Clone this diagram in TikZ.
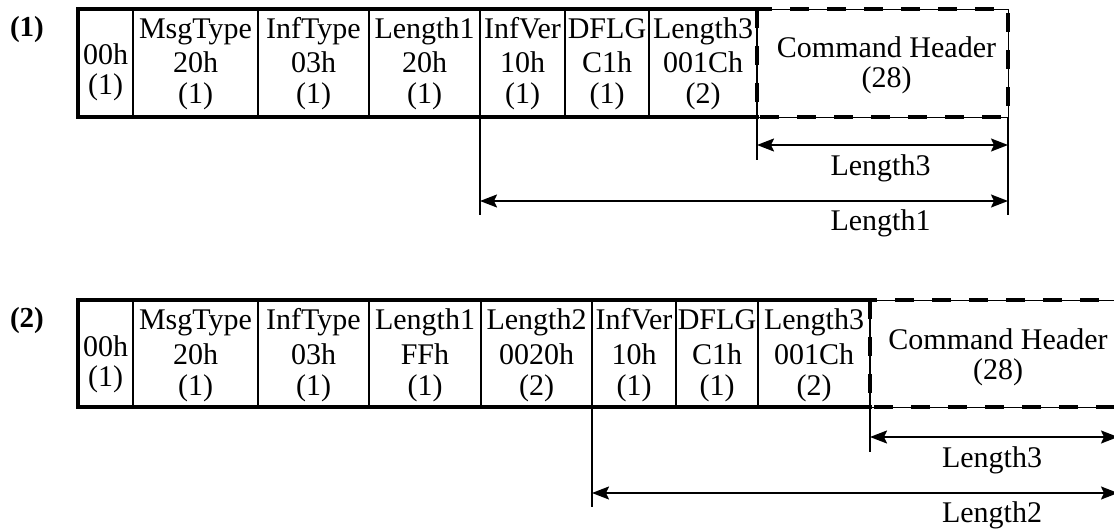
\documentclass[tikz,border=0pt]{standalone}
\usepackage{fontspec}
\setmainfont{Liberation Serif}
\usetikzlibrary{arrows.meta,calc}
\newcommand\cellfont{\fontsize{30}{30}\selectfont}
% three text lines in a cell: #1 name, #2 cell node, #3-#5 lines
\newcommand\cellthree[5]{%
  \node[linetext] (#1-1) at ($(#2.north)+(0,30)$) {#3};
  \node[linetext] (#1-2) at ($(#2.north)+(0,64)$) {#4};
  \node[linetext] (#1-3) at ($(#2.north)+(0,95)$) {#5};}
% two text lines: #1 name, #2 cell node, #3 #4 baseline offsets, #5 #6 lines, #7 x shift
\newcommand\celltwo[7]{%
  \node[linetext] (#1-1) at ($(#2.north)+(#7,#3)$) {#5};
  \node[linetext] (#1-2) at ($(#2.north)+(#7,#4)$) {#6};}
\begin{document}
\begin{tikzpicture}[x=1pt,y=-1pt,
  cellbox/.style={draw, line width=2.2pt, inner sep=0pt, outer sep=0pt, anchor=north west},
  rowone/.style={minimum height=108pt},
  rowtwo/.style={minimum height=107pt},
  linetext/.style={font=\cellfont, inner sep=0pt, anchor=base},
  chbox/.style={draw, line width=0.9pt, inner sep=0pt, outer sep=0pt, anchor=north west},
  chdash/.style={line width=4pt, dash pattern=on 19pt off 18pt},
  outerline/.style={line width=4.5pt, line join=miter, line cap=rect},
  extline/.style={line width=1.8pt},
  dimarrow/.style={line width=1.8pt, {Stealth[length=17pt,width=13pt,inset=3pt]}-{Stealth[length=17pt,width=13pt,inset=3pt]}},
  dimlabel/.style={font=\cellfont, inner sep=0pt, anchor=base},
  rowlabel/.style={font=\fontsize{29}{29}\selectfont\bfseries, inner sep=0pt, anchor=base}
]
\useasboundingbox (0,0) rectangle (1114,529);

% ---------- (1) ----------
\node[rowlabel] (r1) at (27,37) {(1)};
\node[cellbox,rowone,minimum width=55pt]  (a0) at (78,9) {};
\node[cellbox,rowone,minimum width=125pt] (a1) at (a0.north east) {};
\node[cellbox,rowone,minimum width=111pt] (a2) at (a1.north east) {};
\node[cellbox,rowone,minimum width=111pt] (a3) at (a2.north east) {};
\node[cellbox,rowone,minimum width=85pt]  (a4) at (a3.north east) {};
\node[cellbox,rowone,minimum width=84pt]  (a5) at (a4.north east) {};
\node[cellbox,rowone,minimum width=108pt] (a6) at (a5.north east) {};
\node[chbox,rowone,minimum width=251pt]   (a7) at (a6.north east) {};
\draw[outerline] (a6.north east) -- (a0.north west) -- (a0.south west) -- (a6.south east);
\draw[chdash] (a7.north west) rectangle (a7.south east);

\celltwo{a0t}{a0}{56}{86}{00h}{(1)}{0}
\cellthree{a1t}{a1}{MsgType}{20h}{(1)}
\cellthree{a2t}{a2}{InfType}{03h}{(1)}
\cellthree{a3t}{a3}{Length1}{20h}{(1)}
\cellthree{a4t}{a4}{InfVer}{10h}{(1)}
\cellthree{a5t}{a5}{DFLG}{C1h}{(1)}
\cellthree{a6t}{a6}{Length3}{001Ch}{(2)}
\celltwo{a7t}{a7}{48.5}{79}{Command Header}{(28)}{4}

\coordinate (a4x) at ($(a4.south west)+(0,98)$);
\coordinate (a7x) at ($(a7.south west)+(0,43)$);
\coordinate (a7y) at ($(a7.south east)+(0,98)$);
\draw[extline] (a4.south west) -- (a4x);
\draw[extline] (a7.south west) -- (a7x);
\draw[extline] (a7.south east) -- (a7y);
\coordinate (m3a) at ($(a7.south west)+(0,28)$);
\coordinate (m3b) at ($(a7.south east)+(0,28)$);
\coordinate (m1a) at ($(a4.south west)+(0,84)$);
\coordinate (m1b) at ($(a7.south east)+(0,84)$);
\draw[dimarrow] (m3a) -- (m3b);
\draw[dimarrow] (m1a) -- (m1b);
\node[dimlabel] (la3) at ($(m3a)!0.5!(m3b)+(-2,31)$) {Length3};
\node[dimlabel] (la1) at ($(m3a)!0.5!(m3b)+(-2,86)$) {Length1};

% ---------- (2) ----------
\node[rowlabel] (r2) at (27,328) {(2)};
\node[cellbox,rowtwo,minimum width=55pt]  (b0) at (78,300) {};
\node[cellbox,rowtwo,minimum width=125pt] (b1) at (b0.north east) {};
\node[cellbox,rowtwo,minimum width=111pt] (b2) at (b1.north east) {};
\node[cellbox,rowtwo,minimum width=112pt] (b3) at (b2.north east) {};
\node[cellbox,rowtwo,minimum width=111pt] (b4) at (b3.north east) {};
\node[cellbox,rowtwo,minimum width=84pt]  (b5) at (b4.north east) {};
\node[cellbox,rowtwo,minimum width=82pt]  (b6) at (b5.north east) {};
\node[cellbox,rowtwo,minimum width=112pt] (b7) at (b6.north east) {};
\node[chbox,rowtwo,minimum width=248pt]   (b8) at (b7.north east) {};
\draw[outerline] (b7.north east) -- (b0.north west) -- (b0.south west) -- (b7.south east);
\draw[chdash] (b8.north west) rectangle (b8.south east);

\celltwo{b0t}{b0}{56}{86}{00h}{(1)}{0}
\cellthree{b1t}{b1}{MsgType}{20h}{(1)}
\cellthree{b2t}{b2}{InfType}{03h}{(1)}
\cellthree{b3t}{b3}{Length1}{FFh}{(1)}
\cellthree{b4t}{b4}{Length2}{0020h}{(2)}
\cellthree{b5t}{b5}{InfVer}{10h}{(1)}
\cellthree{b6t}{b6}{DFLG}{C1h}{(1)}
\cellthree{b7t}{b7}{Length3}{001Ch}{(2)}
\celltwo{b8t}{b8}{49}{79}{Command Header}{(28)}{4}

\coordinate (b5x) at ($(b5.south west)+(0,100)$);
\coordinate (b8x) at ($(b8.south west)+(0,45)$);
\coordinate (b8y) at ($(b8.south east)+(0,100)$);
\draw[extline] (b5.south west) -- (b5x);
\draw[extline] (b8.south west) -- (b8x);
\draw[extline] (b8.south east) -- (b8y);
\coordinate (n3a) at ($(b8.south west)+(0,30)$);
\coordinate (n3b) at ($(b8.south east)+(0,30)$);
\coordinate (n2a) at ($(b5.south west)+(0,86)$);
\coordinate (n2b) at ($(b8.south east)+(0,86)$);
\draw[dimarrow] (n3a) -- (n3b);
\draw[dimarrow] (n2a) -- (n2b);
\node[dimlabel] (lb3) at ($(n3a)!0.5!(n3b)+(-2,30)$) {Length3};
\node[dimlabel] (lb2) at ($(n3a)!0.5!(n3b)+(-2,85)$) {Length2};
\end{tikzpicture}
\end{document}
